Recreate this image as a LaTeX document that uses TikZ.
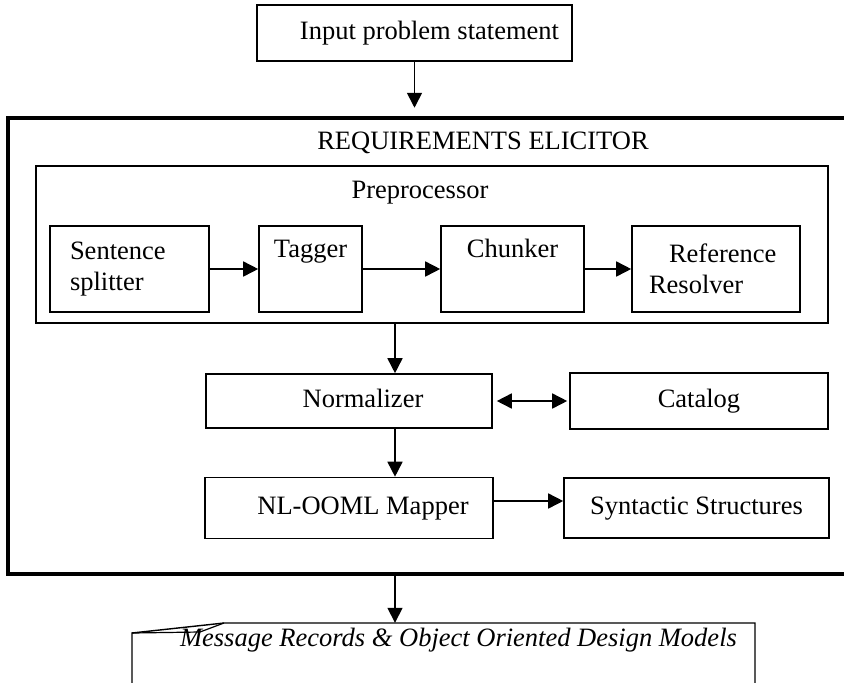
\documentclass[tikz,border=0pt]{standalone}
\usepackage{fontspec}
\setmainfont{Liberation Serif}
\usetikzlibrary{arrows.meta, positioning}
\tikzstyle{block} = [rectangle, draw, line width=1.6pt, text centered, align=center,
    font=\fontsize{26.5}{31}\selectfont]
\tikzstyle{oneline} = [text height=18pt, text depth=5.5pt]
\tikzstyle{frame} = [rectangle, draw, line width=4.5pt]
\tikzstyle{panel} = [rectangle, draw, line width=1.6pt]
\tikzstyle{caption} = [font=\fontsize{26.5}{31}\selectfont]
\tikzstyle{doc} = [font=\fontsize{26.5}{31}\selectfont\itshape, minimum height=34pt]
\tikzstyle{line} = [draw, line width=1.6pt, -{Triangle[length=15pt,width=15pt]}]

\begin{document}
\begin{tikzpicture}[node distance = 100pt]
            \useasboundingbox (0,0) rectangle (844pt,-683pt);
            % Place nodes
            \node [block, oneline, minimum width=315pt, minimum height=56pt] (input) at (414.5pt,-33pt) {\hspace*{30pt}Input problem statement};
            \node [frame, minimum width=842pt, minimum height=456pt] (elicitor) at (429pt,-346pt) {};
            \node [caption] (title) at (483pt,-143pt) {REQUIREMENTS ELICITOR};
            \node [panel, minimum width=792pt, minimum height=157pt] (pre) at (432pt,-244.5pt) {};
            \node [caption] (pretitle) at (420pt,-193pt) {Preprocessor};
            \node [block, align=left, text width=119pt, minimum width=159pt, minimum height=86pt] (split) at (129.5pt,-269pt) {Sentence\\splitter};
            \node [block, right of=split, node distance=181pt, minimum width=103pt, minimum height=86pt] (tagger) {Tagger\\[10pt]\mbox{}};
            \node [block, right of=tagger, node distance=202pt, minimum width=143pt, minimum height=86pt] (chunk) {Chunker\\[10pt]\mbox{}};
            \node [block, align=left, text width=134pt, right of=chunk, node distance=203.5pt, minimum width=168pt, minimum height=86pt] (resolv) {\hspace*{20pt}Reference\\Resolver};
            \node [block, oneline, minimum width=286pt, minimum height=54pt] (norm) at (349pt,-401pt) {\hspace*{28pt}Normalizer};
            \node [block, oneline, right of=norm, node distance=350pt, minimum width=258pt, minimum height=56pt] (catalog) {Catalog};
            \node [block, oneline, below of=norm, node distance=107pt, minimum width=288pt, minimum height=61pt] (mapper) {\hspace*{28pt}NL-OOML Mapper};
            \node [block, oneline, right of=mapper, node distance=347.5pt, minimum width=265pt, minimum height=60pt] (syn) {Syntactic Structures};
            \node [doc] (out) at (458.5pt,-640pt) {Message Records \& Object Oriented Design Models};
            \coordinate (spine) at (395pt,0pt);
            % Output page with folded corner
            \draw [line width=1.4pt] (132pt,-690pt) -- (132pt,-633pt) -- (224pt,-623pt) -- (755pt,-623pt) -- (755pt,-690pt);
            \draw [line width=1.2pt] (132pt,-633pt) -- (200pt,-632pt) -- (224pt,-623pt);
            % Draw edges
            \path [line, shorten >=8pt] (input.south) -- (input.south |- elicitor.north);
            \path [line] (split.east) -- (split.east -| tagger.west);
            \path [line] (tagger.east) -- (tagger.east -| chunk.west);
            \path [line] (chunk.east) -- (chunk.east -| resolv.west);
            \path [line] (pre.south -| spine) -- (norm.north -| spine);
            \path [line, {Triangle[length=15pt,width=15pt]}-{Triangle[length=15pt,width=15pt]}, shorten <=4pt, shorten >=2pt] (norm.east) -- (norm.east -| catalog.west);
            \path [line] (norm.south -| spine) -- (mapper.north -| spine);
            \path [line] ([yshift=7pt]mapper.east) -- ([yshift=7pt]mapper.east -| syn.west);
            \path [line] (elicitor.south -| spine) -- (out.north -| spine);
        \end{tikzpicture}
\end{document}
